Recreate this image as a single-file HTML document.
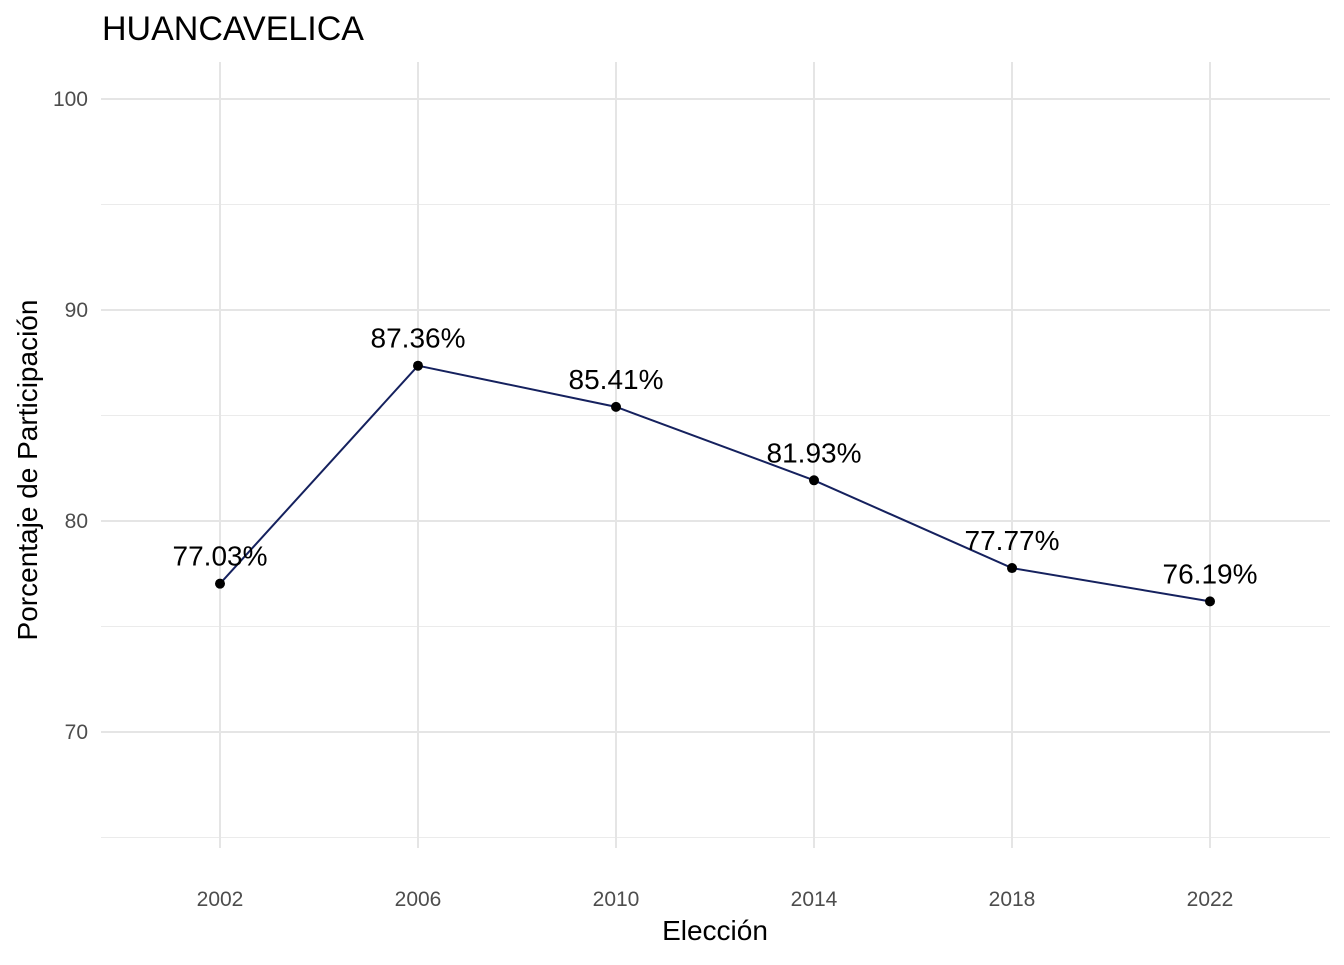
<!DOCTYPE html>
<html><head><meta charset="utf-8"><style>
body{margin:0;background:#fff;font-family:"Liberation Sans",Arial,sans-serif}
</style></head><body>
<svg id="c" width="1344" height="960" xmlns="http://www.w3.org/2000/svg">
<text x="102" y="40" font-size="34" fill="#000">HUANCAVELICA</text>
<g id="grid"></g><g id="axes"></g><g id="series"></g>
<text x="715" y="940" font-size="28" text-anchor="middle" fill="#000">Elección</text>
<text transform="translate(37,470) rotate(-90)" font-size="28" text-anchor="middle" fill="#000">Porcentaje de Participación</text>
</svg>
<script>
const years=[2002,2006,2010,2014,2018,2022];
const values=[77.03,87.36,85.41,81.93,77.77,76.19];
const labels=["77.03%","87.36%","85.41%","81.93%","77.77%","76.19%"];
const yTicks=[70,80,90,100];
const yMinor=[65,75,85,95];
const NS="http://www.w3.org/2000/svg";
const L=101,R=1330,T=62,B=848;
const x=v=>220+(v-2002)*49.5;
const y=v=>99+(100-v)*21.1;
function mk(p,tag,a){const e=document.createElementNS(NS,tag);for(const k in a)e.setAttribute(k,a[k]);p.appendChild(e);return e;}
const g=document.getElementById('grid'),ax=document.getElementById('axes'),s=document.getElementById('series');
yMinor.forEach(v=>{const l=mk(g,'line',{x1:L,x2:R,y1:y(v),y2:y(v),stroke:'#ebebeb','stroke-width':1});

});
yTicks.forEach(v=>{const l=mk(g,'line',{x1:L,x2:R,y1:y(v),y2:y(v),stroke:'#e5e5e5','stroke-width':2});


const t=mk(ax,'text',{x:88,y:y(v)+7,'font-size':21,fill:'#4d4d4d','text-anchor':'end'});t.textContent=v;

});
years.forEach(v=>{const l=mk(g,'line',{x1:x(v),x2:x(v),y1:T,y2:B,stroke:'#e5e5e5','stroke-width':2});


const t=mk(ax,'text',{x:x(v),y:906,'font-size':21,fill:'#4d4d4d','text-anchor':'middle'});t.textContent=v;

});
const pl=mk(s,'polyline',{points:years.map((v,i)=>x(v)+','+y(values[i])).join(' '),fill:'none',stroke:'#15215e','stroke-width':2});


years.forEach((v,i)=>{const c=mk(s,'circle',{cx:x(v),cy:y(values[i]),r:5,fill:'#000'});


const t=mk(s,'text',{x:x(v),y:y(values[i])-18,'font-size':28,fill:'#000','text-anchor':'middle'});t.textContent=labels[i];

});
</script>
</body></html>
